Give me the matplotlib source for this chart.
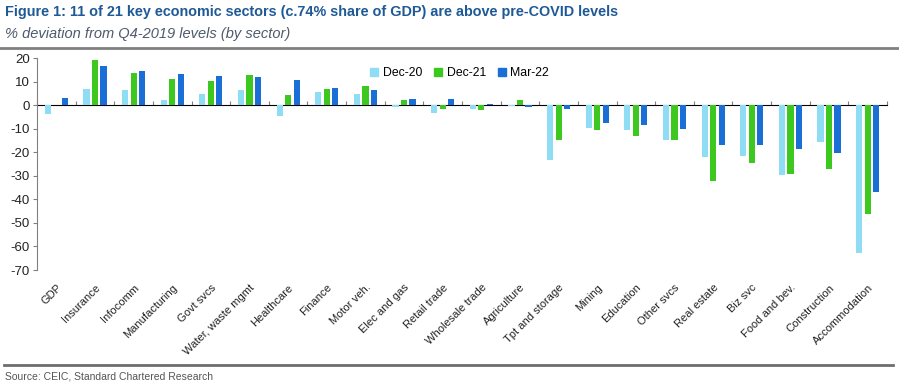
import numpy as np
import matplotlib.pyplot as plt
from matplotlib.lines import Line2D

plt.rcParams["font.family"] = ["Liberation Sans", "DejaVu Sans"]
plt.rcParams["axes.unicode_minus"] = False

SECTORS = ["GDP", "Insurance", "Infocomm", "Manufacturing", "Govt svcs",
           "Water, waste mgmt", "Healthcare", "Finance", "Motor veh.",
           "Elec and gas", "Retail trade", "Wholesale trade", "Agriculture",
           "Tpt and storage", "Mining", "Education", "Other svcs",
           "Real estate", "Biz svc", "Food and bev.", "Construction",
           "Accommodation"]

DEC_20 = [-3.5, 6.9, 6.5, 2.1, 4.7, 6.4, -4.4, 5.7, 4.7, -0.7, -3.1, -1.4,
          -0.3, -23.4, -9.6, -10.4, -14.6, -22.1, -21.6, -29.8, -15.7, -62.8]
DEC_21 = [0.1, 19.1, 13.7, 11.0, 10.3, 12.9, 4.3, 6.9, 8.1, 2.1, -1.6, -2.1,
          2.1, -14.6, -10.5, -13.0, -14.6, -32.2, -24.5, -29.4, -27.1, -46.1]
MAR_22 = [3.1, 16.6, 14.5, 13.2, 12.5, 12.0, 10.6, 7.2, 6.4, 2.6, 2.6, 0.5,
          -0.5, -1.6, -7.4, -8.4, -10.1, -16.9, -16.9, -18.6, -20.3, -36.9]

SERIES = ["Dec-20", "Dec-21", "Mar-22"]
COLORS = {"Dec-20": "#8fdcf5", "Dec-21": "#3cc81e", "Mar-22": "#1a6fd6"}

Y_MIN, Y_MAX = -70, 20

fig = plt.figure(figsize=(8.99, 3.86), dpi=100)
ax = fig.add_axes([0.0412, 0.3005, 0.9455, 0.5485])

x = np.arange(len(SECTORS))
offsets = {"Dec-20": -0.22, "Dec-21": 0.0, "Mar-22": 0.22}
values = {"Dec-20": DEC_20, "Dec-21": DEC_21, "Mar-22": MAR_22}

for s in SERIES:
    ax.bar(x + offsets[s], values[s], width=0.16, color=COLORS[s],
           label=s, zorder=2)

ax.set_xlim(-0.5, len(SECTORS) - 0.5)
ax.set_ylim(Y_MIN, Y_MAX)
ax.set_yticks(np.arange(Y_MIN, Y_MAX + 1, 10))
ax.tick_params(axis="y", labelsize=9.5, length=3, color="#808080",
               colors="#222222", pad=2)
ax.set_xticks(x)
ax.set_xticklabels(SECTORS, rotation=45, ha="right", rotation_mode="anchor",
                   fontsize=8, color="#222222")
ax.tick_params(axis="x", length=0, pad=9)

for side in ["top", "right", "bottom"]:
    ax.spines[side].set_visible(False)
ax.spines["left"].set_color("#808080")
ax.spines["left"].set_linewidth(0.8)

# zero line with category boundary ticks
zero_pos = (0 - Y_MIN) / (Y_MAX - Y_MIN)
sec = ax.secondary_xaxis(zero_pos)
sec.set_xticks(np.arange(len(SECTORS) + 1) - 0.5)
sec.set_xticklabels([])
sec.tick_params(axis="x", direction="out", length=3, color="#808080",
                width=0.8)
sec.spines["bottom"].set_color("#808080")
sec.spines["bottom"].set_linewidth(0.8)

handles = [Line2D([], [], marker="s", linestyle="none", markersize=5.5,
                  color=COLORS[s]) for s in SERIES]
ax.legend(handles, SERIES, loc="upper left", bbox_to_anchor=(0.378, 1.01),
          ncol=3, frameon=False, fontsize=8.8, handletextpad=0.3,
          columnspacing=0.9, handlelength=0.8)

fig.text(0.006, 0.968, "Figure 1: 11 of 21 key economic sectors (c.74% share "
         "of GDP) are above pre-COVID levels", fontsize=10.4,
         fontweight="bold", color="#1f5a96", va="center")
fig.text(0.006, 0.913, "% deviation from Q4-2019 levels (by sector)",
         fontsize=10.5, style="italic", color="#4d5b6b", va="center")
fig.add_artist(Line2D([0.0, 1.0], [0.876, 0.876], transform=fig.transFigure,
                      color="#808080", linewidth=2))
fig.add_artist(Line2D([0.005, 0.993], [0.054, 0.054], transform=fig.transFigure,
                      color="#6e6e6e", linewidth=2))
fig.text(0.006, 0.024, "Source: CEIC, Standard Chartered Research",
         fontsize=7.5, color="#555555", va="center")

fig.savefig("out.png", dpi=100, facecolor="white")
